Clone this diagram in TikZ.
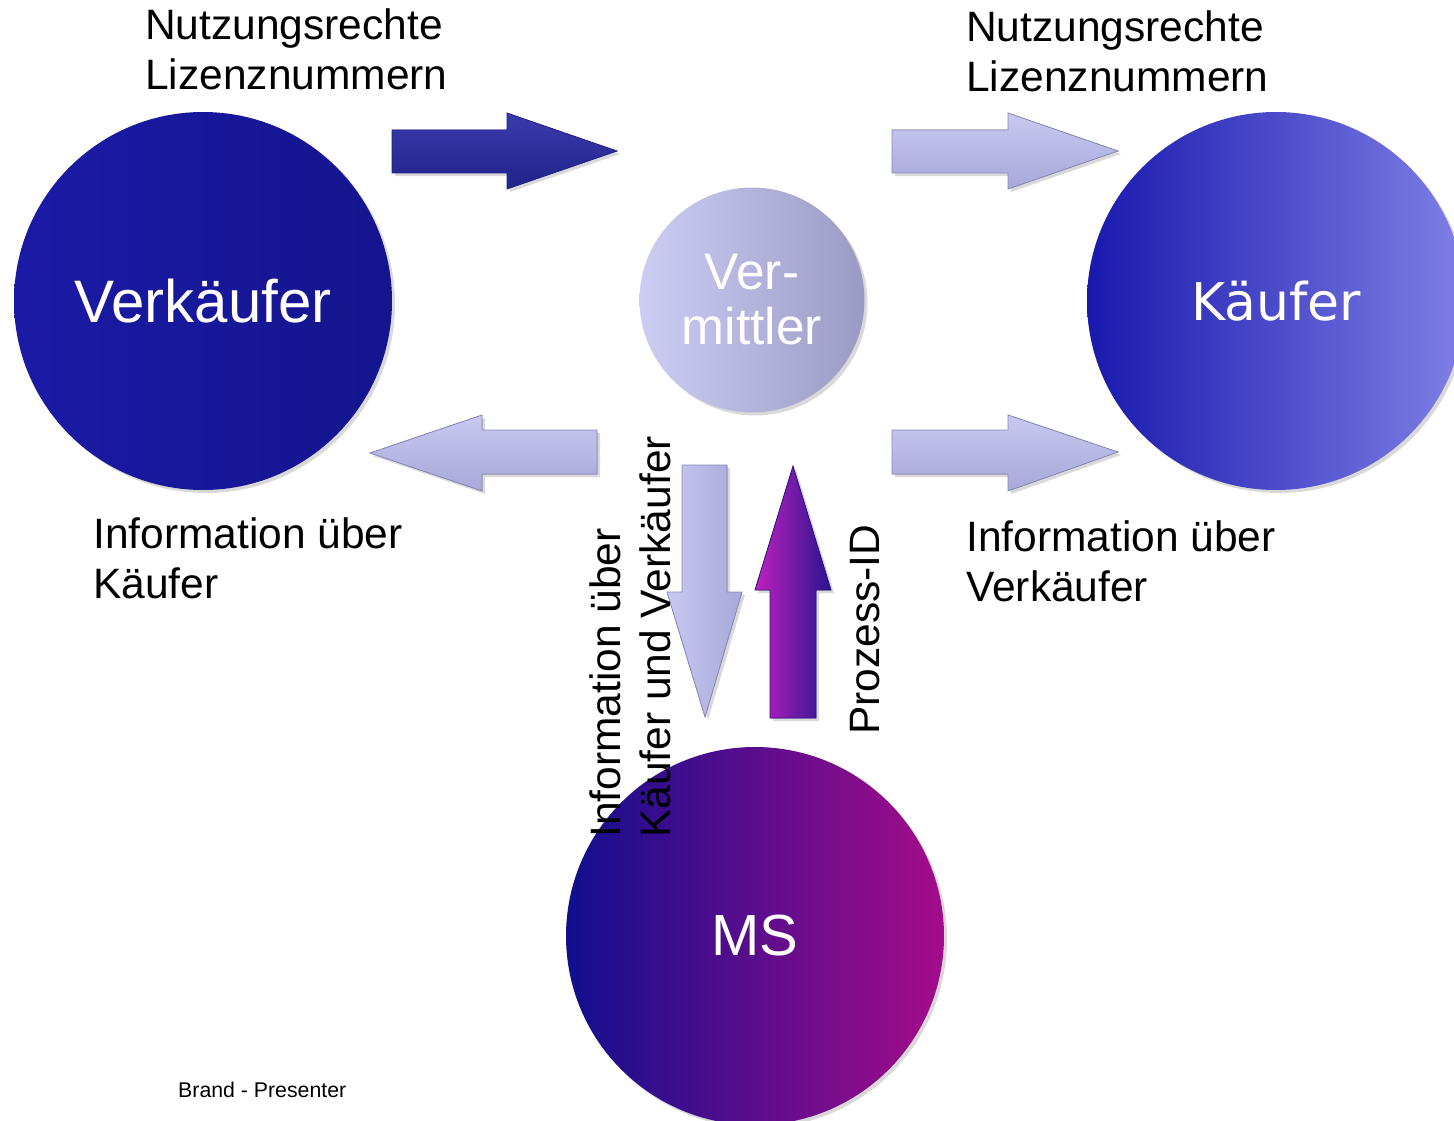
\documentclass[tikz,border=0pt]{standalone}
\usepackage{fontspec}
\setmainfont{Liberation Sans}
\newfontfamily\dvsfont{DejaVu Sans}
\usetikzlibrary{shadows}
\definecolor{vkl}{HTML}{1A1AA6}
\definecolor{vkr}{HTML}{15158E}
\definecolor{kfl}{HTML}{1818AE}
\definecolor{kfr}{HTML}{8080E6}
\definecolor{vml}{HTML}{CDCDF4}
\definecolor{vmr}{HTML}{9A9AC4}
\definecolor{msl}{HTML}{120E8E}
\definecolor{msm}{HTML}{6208A0}
\definecolor{msr}{HTML}{A40C8A}
\definecolor{lighttop}{HTML}{C8C8F0}
\definecolor{lightbot}{HTML}{A8A8DA}
\definecolor{lightedge}{HTML}{8888B8}
\definecolor{darktop}{HTML}{3A3AAE}
\definecolor{darkbot}{HTML}{22228A}
\definecolor{upl}{HTML}{C020C0}
\definecolor{upm}{HTML}{5E10AA}
\definecolor{upr}{HTML}{28148E}
\tikzset{
  ball/.style={circle, minimum size=#1, inner sep=0pt, text=white,
    drop shadow={shadow xshift=3pt, shadow yshift=-3pt, opacity=0.3}},
  lightarrow/.style={top color=lighttop, bottom color=lightbot, draw=lightedge, line width=0.8pt,
    drop shadow={shadow xshift=3pt, shadow yshift=-3pt, opacity=0.3}},
  lightvarrow/.style={left color=lighttop, right color=lightbot, draw=lightedge, line width=0.8pt,
    drop shadow={shadow xshift=3pt, shadow yshift=-3pt, opacity=0.3}},
  darkarrow/.style={top color=darktop, bottom color=darkbot, draw=darkbot, line width=0.8pt,
    drop shadow={shadow xshift=3pt, shadow yshift=-3pt, opacity=0.3}},
  uparrow/.style={left color=upl, middle color=upm, right color=upr, draw=upr, line width=0.8pt,
    drop shadow={shadow xshift=3pt, shadow yshift=-3pt, opacity=0.3}},
  lbl/.style={align=left, inner sep=0pt, font=\fontsize{42.5}{50}\selectfont, text=black},
}
\begin{document}
\begin{tikzpicture}[x=1pt,y=-1pt]
\useasboundingbox (0,0) rectangle (1454,1121);
\clip (0,0) rectangle (1454,1121);

% circles
\node[ball=378pt, left color=vkl, right color=vkr,
  font=\fontsize{60}{66}\selectfont] (vk) at (203,301) {Verkäufer};
\node[ball=378pt, left color=kfl, right color=kfr,
  font=\dvsfont\fontsize{52}{60}\selectfont] (kf) at (1276,301) {Käufer};
\node[ball=225pt, left color=vml, right color=vmr, align=center,
  font=\fontsize{51.5}{55}\selectfont] (vm) at (752,300) {Ver-\\mittler};
\node[ball=378pt, left color=msl, middle color=msm, right color=msr,
  font=\fontsize{58}{64}\selectfont] (ms) at (755,936) {MS};

% horizontal block arrows
\fill[darkarrow] (392,130) -- (507,130) -- (507,113) -- (617,151) -- (507,189) -- (507,173) -- (392,173) -- cycle;
\fill[lightarrow] (892,130) -- (1008,130) -- (1008,113) -- (1118,151) -- (1008,189) -- (1008,173) -- (892,173) -- cycle;
\fill[lightarrow] (597,430) -- (482,430) -- (482,415) -- (370,453) -- (482,491) -- (482,474) -- (597,474) -- cycle;
\fill[lightarrow] (892,430) -- (1008,430) -- (1008,415) -- (1118,452) -- (1008,491) -- (1008,474) -- (892,474) -- cycle;

% vertical block arrows
\fill[lightvarrow] (682,465) -- (727,465) -- (727,592) -- (742,592) -- (705,717) -- (667,592) -- (682,592) -- cycle;
\fill[uparrow] (770,718) -- (816,718) -- (816,590) -- (831,590) -- (793,466) -- (755,590) -- (770,590) -- cycle;

% labels
\node[lbl, anchor=north west] (t1) at (145,9) {Nutzungsrechte\\Lizenznummern};
\node[lbl, anchor=north west] (t2) at (966,11) {Nutzungsrechte\\Lizenznummern};
\node[lbl, anchor=north west] (t3) at (93,517) {Information über\\Käufer};
\node[lbl, anchor=north west] (t4) at (966,520) {Information über\\Verkäufer};
\node[lbl, anchor=north west, rotate=90] (t5) at (589,838) {Information über\\Käufer und Verkäufer};
\node[lbl, anchor=north west, rotate=90] (t6) at (850,735) {Prozess-ID};
\node[inner sep=0pt, anchor=west, font=\fontsize{21.3}{24}\selectfont] (brand) at (178,1090) {Brand - Presenter};
\end{tikzpicture}
\end{document}
